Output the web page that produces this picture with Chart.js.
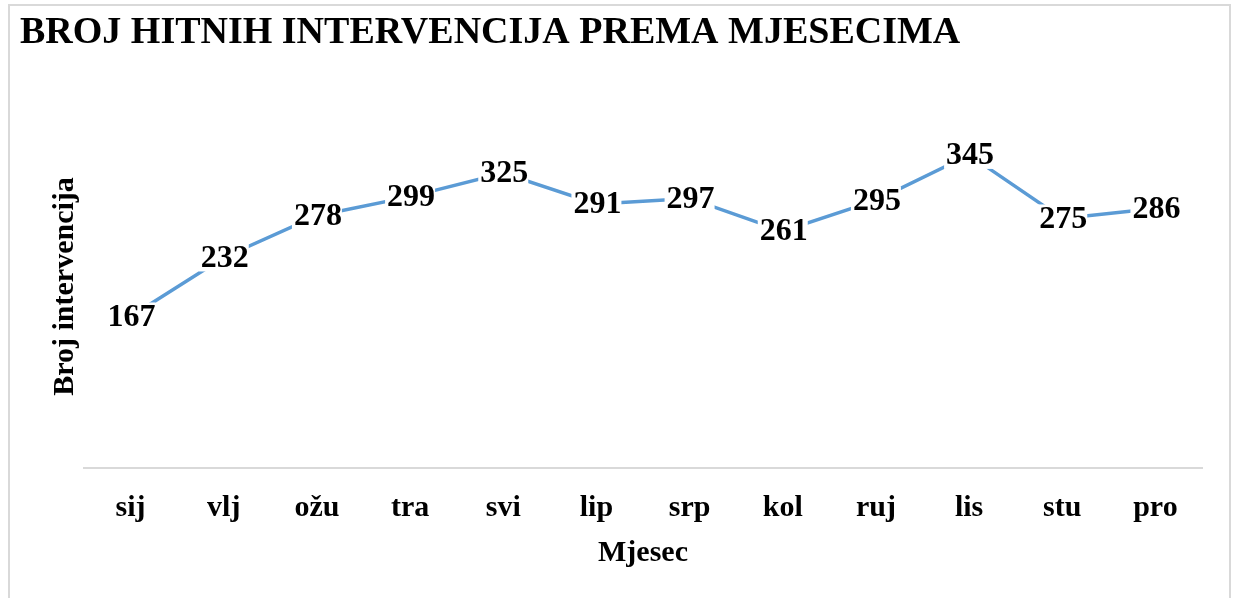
<!DOCTYPE html>
<html>
<head>
<meta charset="utf-8">
<script src="https://cdn.jsdelivr.net/npm/chart.js@4/dist/chart.umd.min.js"></script>
<style>
  body { margin: 0; background: #fff; }
  #wrap { position: relative; width: 1236px; height: 598px; overflow: hidden; }
  #frame { position: absolute; left: 8px; top: 4px; width: 1223px; height: 620px; border: 2px solid #d9d9d9; box-sizing: border-box; pointer-events: none; }
</style>
</head>
<body>
<div id="wrap">
  <canvas id="chart" width="1236" height="598"></canvas>
  <div id="frame"></div>
</div>
<script>
var months = ['sij', 'vlj', 'ožu', 'tra', 'svi', 'lip', 'srp', 'kol', 'ruj', 'lis', 'stu', 'pro'];
var interventions = [167, 232, 278, 299, 325, 291, 297, 261, 295, 345, 275, 286];

var serif = '"Liberation Serif", "Times New Roman", serif';

// number labels sit on the line with a white box behind them
var valueLabels = {
  id: 'valueLabels',
  afterDatasetsDraw: function (chart) {
    var ctx = chart.ctx;
    var meta = chart.getDatasetMeta(0);
    ctx.save();
    ctx.font = 'bold 32px ' + serif;
    ctx.textAlign = 'center';
    ctx.textBaseline = 'middle';
    meta.data.forEach(function (pt, i) {
      var txt = String(interventions[i]);
      var w = ctx.measureText(txt).width + 2;
      ctx.fillStyle = '#fff';
      ctx.fillRect(pt.x - w / 2, pt.y - 14, w, 28);
      ctx.fillStyle = '#000';
      ctx.fillText(txt, pt.x + 1, pt.y + 1);
    });
    ctx.restore();
  }
};

var ctx = document.getElementById('chart').getContext('2d');
new Chart(ctx, {
  type: 'line',
  data: {
    labels: months,
    datasets: [{
      label: 'Broj intervencija',
      data: interventions,
      borderColor: '#5b9bd5',
      borderWidth: 3.5,
      pointRadius: 0,
      tension: 0,
      fill: false
    }]
  },
  options: {
    responsive: false,
    animation: false,
    layout: { padding: { left: 20, right: 34, top: 0, bottom: 0 } },
    plugins: {
      legend: { display: false },
      tooltip: { enabled: false },
      title: {
        display: true,
        text: 'BROJ HITNIH INTERVENCIJA PREMA MJESECIMA',
        align: 'start',
        color: '#000',
        font: { family: serif, size: 38, weight: 'bold' },
        padding: { top: 10, bottom: 49.4 }
      }
    },
    scales: {
      x: {
        offset: true,
        grid: { display: false, drawTicks: false },
        border: { display: true, color: '#d9d9d9', width: 2 },
        ticks: {
          color: '#000',
          font: { family: serif, size: 30, weight: 'bold' },
          padding: 22,
          maxRotation: 0,
          autoSkip: false
        },
        title: {
          display: true,
          text: 'Mjesec',
          color: '#000',
          font: { family: serif, size: 30, weight: 'bold' },
          padding: { top: 0, bottom: 27 }
        },
        afterFit: function (scale) { scale.height = 130; }
      },
      y: {
        min: 0,
        max: 400,
        grid: { display: false },
        border: { display: false },
        ticks: { display: false },
        title: {
          display: true,
          text: 'Broj intervencija',
          color: '#000',
          font: { family: serif, size: 30, weight: 'bold' },
          padding: { top: 27, bottom: 0 }
        },
        afterFit: function (scale) { scale.width = 64; }
      }
    }
  },
  plugins: [valueLabels]
});
</script>
</body>
</html>
